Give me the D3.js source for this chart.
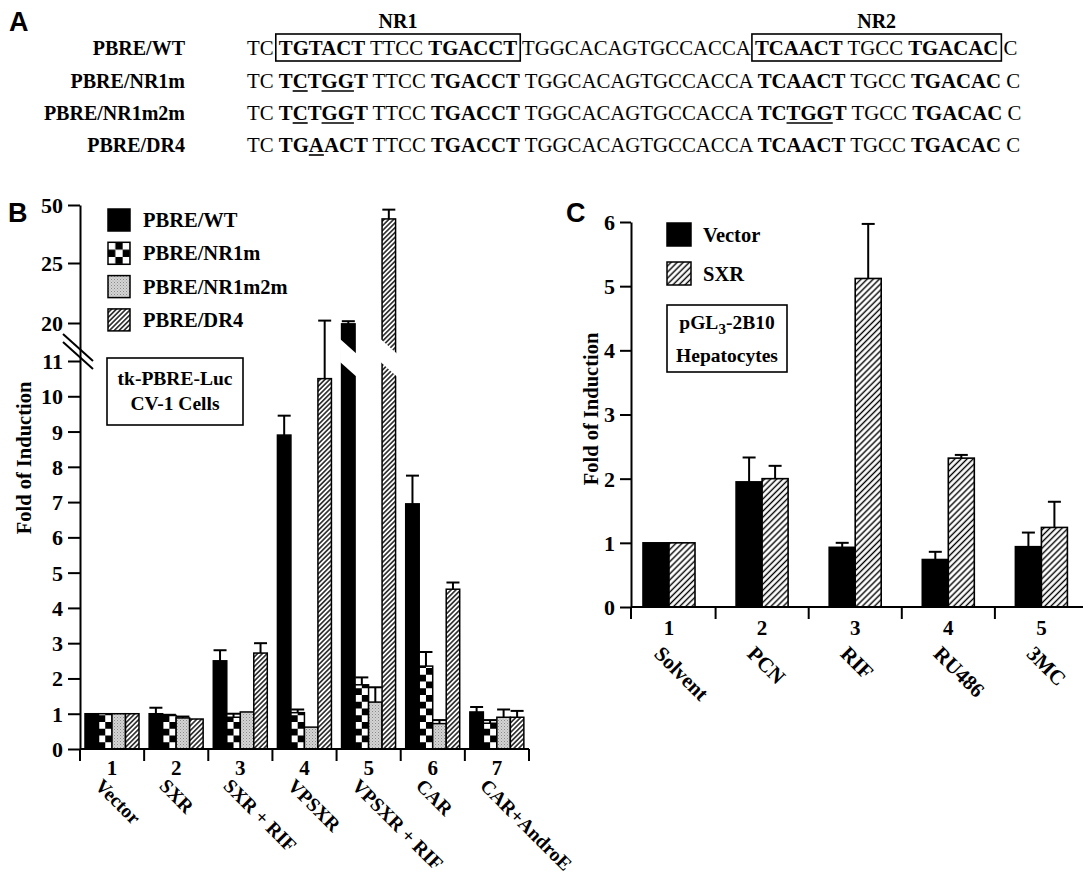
<!DOCTYPE html>
<html><head><meta charset="utf-8">
<script src="https://cdn.jsdelivr.net/npm/d3@7"></script>
<style>
body{margin:0;background:#fff}
text{font-family:"Liberation Serif","Times New Roman",serif;font-weight:bold;fill:#000}
text.sans{font-family:"Liberation Sans",Arial,sans-serif}
</style>
</head><body><svg id="chart" width="1091" height="882"></svg>
<script>
// ---------------- Panel A data ----------------
const seqLabels = ["PBRE/WT", "PBRE/NR1m", "PBRE/NR1m2m", "PBRE/DR4"];
// [text, bold, underline]
const seqSegments = [
  [["TC ",0,0],["TGTACT",1,0],[" TTCC ",0,0],["TGACCT",1,0],[" TGGCACAGTGCCACCA ",0,0],["TCAACT",1,0],[" TGCC ",0,0],["TGACAC",1,0],[" C",0,0]],
  [["TC ",0,0],["T",1,0],["C",1,1],["T",1,0],["GG",1,1],["T",1,0],[" TTCC ",0,0],["TGACCT",1,0],[" TGGCACAGTGCCACCA ",0,0],["TCAACT",1,0],[" TGCC ",0,0],["TGACAC",1,0],[" C",0,0]],
  [["TC ",0,0],["T",1,0],["C",1,1],["T",1,0],["GG",1,1],["T",1,0],[" TTCC ",0,0],["TGACCT",1,0],[" TGGCACAGTGCCACCA ",0,0],["TC",1,0],["TGG",1,1],["T",1,0],[" TGCC ",0,0],["TGACAC",1,0],[" C",0,0]],
  [["TC ",0,0],["TG",1,0],["A",1,1],["ACT",1,0],[" TTCC ",0,0],["TGACCT",1,0],[" TGGCACAGTGCCACCA ",0,0],["TCAACT",1,0],[" TGCC ",0,0],["TGACAC",1,0],[" C",0,0]]
];
const boxNames = ["NR1", "NR2"];

// ---------------- Panel B data ----------------
const groupsB = ["Vector", "SXR", "SXR + RIF", "VPSXR", "VPSXR + RIF", "CAR", "CAR+AndroE"];
const seriesB = ["PBRE/WT", "PBRE/NR1m", "PBRE/NR1m2m", "PBRE/DR4"];
const wtVals     = [1.0, 1.0, 2.5, 8.9, 19.8, 6.95, 1.05];
const wtErr      = [null, 1.17, 2.8, 9.45, 20.15, 7.75, 1.19];
const nr1mVals   = [1.0, 0.95, 0.9, 1.03, 1.82, 2.35, 0.73];
const nr1mErr    = [null, 0.97, 1.0, 1.12, 2.03, 2.75, 0.82];
const nr1m2mVals = [1.0, 0.88, 1.05, 0.62, 1.33, 0.72, 0.9];
const nr1m2mErr  = [null, 0.92, null, null, 1.75, 0.82, 1.12];
const dr4Vals    = [1.0, 0.85, 2.72, 10.5, 44, 4.53, 0.9];
const dr4Err     = [null, null, 3.0, 20.2, 48, 4.72, 1.08];
const ticksB = [0, 1, 2, 3, 4, 5, 6, 7, 8, 9, 10, 11, 20, 25, 50];

// ---------------- Panel C data ----------------
const groupsC = ["Solvent", "PCN", "RIF", "RU486", "3MC"];
const seriesC = ["Vector", "SXR"];
const vecVals = [1.0, 1.95, 0.93, 0.74, 0.94];
const vecErr  = [null, 2.33, 1.0, 0.86, 1.16];
const sxrVals = [1.0, 2.0, 5.12, 2.32, 1.24];
const sxrErr  = [null, 2.2, 5.97, 2.37, 1.64];
const ticksC = [0, 1, 2, 3, 4, 5, 6];

const SERIF = '"Liberation Serif","Times New Roman",serif';
const svg = d3.select("#chart");
const defs = svg.append("defs");

function hatch(id, w, lw) {
  const p = defs.append("pattern").attr("id", id).attr("patternUnits", "userSpaceOnUse")
    .attr("width", w).attr("height", w).attr("patternTransform", "rotate(45)");
  p.append("rect").attr("width", w).attr("height", w).attr("fill", "#fff");
  p.append("line").attr("x1", w/2).attr("x2", w/2).attr("y1", 0).attr("y2", w).attr("stroke", "#000").attr("stroke-width", lw);
}
hatch("hatchB", 3.4, 1.35);
hatch("hatchC", 4.3, 1.4);
(function(){
  const p = defs.append("pattern").attr("id", "stip").attr("patternUnits", "userSpaceOnUse").attr("width", 3).attr("height", 3);
  p.append("rect").attr("width", 3).attr("height", 3).attr("fill", "#d4d4d4");
  p.append("rect").attr("x", 0).attr("y", 0).attr("width", 1).attr("height", 1).attr("fill", "#8a8a8a");
  p.append("rect").attr("x", 1.5).attr("y", 1.5).attr("width", 1).attr("height", 1).attr("fill", "#a4a4a4");
})();
function checker(id, x0, y0, s) {
  const p = defs.append("pattern").attr("id", id).attr("patternUnits", "userSpaceOnUse")
    .attr("x", x0).attr("y", y0).attr("width", 2*s).attr("height", 2*s);
  p.append("rect").attr("width", 2*s).attr("height", 2*s).attr("fill", "#fff");
  p.append("rect").attr("x", s).attr("y", 0).attr("width", s).attr("height", s).attr("fill", "#000");
  p.append("rect").attr("x", 0).attr("y", s).attr("width", s).attr("height", s).attr("fill", "#000");
}
function T(g, size) { return g.append("text").attr("font-family", SERIF).attr("font-weight", "bold").attr("font-size", size); }

// ================= Panel A =================
const gA = svg.append("g");
gA.append("text").attr("class", "sans").attr("font-family", "Liberation Sans").attr("font-weight", "bold")
  .attr("x", 9).attr("y", 31).attr("font-size", 27).text("A");
const rowY = [55, 88, 120, 152];
const seqX0 = 247, seqFont = 20.8, labelRight = 185;
seqLabels.forEach((lab, r) => {
  T(gA, 20).attr("x", labelRight).attr("y", rowY[r]).attr("text-anchor", "end").text(lab);
  let x = seqX0;
  const pos = [];
  seqSegments[r].forEach(([t, b, u]) => {
    const el = gA.append("text").attr("x", x).attr("y", rowY[r]).attr("font-size", seqFont)
      .attr("font-family", SERIF).style("white-space", "pre").style("font-weight", b ? "bold" : "normal").text(t);
    const w = el.node().getComputedTextLength();
    pos.push([x, x + w]);
    if (u) gA.append("line").attr("x1", x).attr("x2", x + w).attr("y1", rowY[r] + 3).attr("y2", rowY[r] + 3)
      .attr("stroke", "#000").attr("stroke-width", 1.6);
    x += w;
  });
  if (r === 0) {
    [[1, 3], [5, 7]].forEach(([a, b], k) => {
      const x1 = pos[a][0] - 3, x2 = pos[b][1] + 3;
      gA.append("rect").attr("x", x1).attr("y", rowY[r] - 21).attr("width", x2 - x1).attr("height", 27)
        .attr("fill", "none").attr("stroke", "#000").attr("stroke-width", 1.6);
      T(gA, 20).attr("x", (x1 + x2) / 2).attr("y", rowY[r] - 27).attr("text-anchor", "middle").text(boxNames[k]);
    });
  }
});

// ================= Panel B =================
const gB = svg.append("g");
gB.append("text").attr("class", "sans").attr("font-family", "Liberation Sans").attr("font-weight", "bold")
  .attr("x", 8).attr("y", 222).attr("font-size", 27).text("B");
const yB = d3.scaleLinear().domain([0, 11, 20, 25, 50]).range([749, 361, 323, 263, 205]);
const xB = d3.scaleBand().domain(d3.range(groupsB.length)).range([80, 529]);
const sB = d3.scaleBand().domain(d3.range(seriesB.length)).range([5, 59]);
const valsB = [wtVals, nr1mVals, nr1m2mVals, dr4Vals];
const errsB = [wtErr, nr1mErr, nr1m2mErr, dr4Err];
const bw = sB.bandwidth();
function fillB(s, g) {
  if (s === 0) return "#000";
  if (s === 1) { const id = "chkB" + g; checker(id, xB(g) + sB(1), yB(0), bw / 2); return `url(#${id})`; }
  if (s === 2) return "url(#stip)";
  return "url(#hatchB)";
}
seriesB.forEach((name, s) => {
  groupsB.forEach((grp, g) => {
    const x = xB(g) + sB(s), v = valsB[s][g];
    gB.append("rect").attr("x", x).attr("y", yB(v)).attr("width", bw).attr("height", yB(0) - yB(v))
      .attr("fill", fillB(s, g)).attr("stroke", "#000").attr("stroke-width", 1.5);
  });
});
seriesB.forEach((name, s) => {
  groupsB.forEach((grp, g) => {
    const e = errsB[s][g]; if (e == null) return;
    const cx = xB(g) + sB(s) + bw / 2, v = valsB[s][g];
    gB.append("line").attr("x1", cx).attr("x2", cx).attr("y1", yB(v)).attr("y2", yB(e)).attr("stroke", "#000").attr("stroke-width", 2);
    gB.append("line").attr("x1", cx - 6.5).attr("x2", cx + 6.5).attr("y1", yB(e)).attr("y2", yB(e)).attr("stroke", "#000").attr("stroke-width", 2);
  });
});
// break bands on bars that cross the broken range
seriesB.forEach((name, s) => {
  groupsB.forEach((grp, g) => {
    const v = valsB[s][g]; if (v <= 11) return;
    const x = xB(g) + sB(s) - 1.5, w = bw + 3, yt = yB(20) + 16, sl = 0.9, th = 23;
    gB.append("polygon").attr("points", [[x, yt], [x + w, yt + sl * w], [x + w, yt + sl * w + th], [x, yt + th]].map(p => p.join(",")).join(" "))
      .attr("fill", "#fff");
  });
});
const axB = gB.append("g").attr("transform", "translate(80,0)")
  .call(d3.axisLeft(yB).tickValues(ticksB).tickSize(12).tickSizeOuter(0).tickPadding(5).tickFormat(d3.format("d")));
axB.attr("font-family", SERIF);
axB.select(".domain").attr("stroke-width", 2);
axB.selectAll(".tick line").attr("stroke-width", 2);
axB.selectAll(".tick text").attr("font-size", 22).attr("font-family", SERIF).attr("font-weight", "bold").attr("dy", "0.34em");
[0, 8].forEach(o => gB.append("line").attr("x1", 63).attr("y1", 334 + o).attr("x2", 93).attr("y2", 361 + o).attr("stroke", "#000").attr("stroke-width", 2));
gB.append("line").attr("x1", 80).attr("x2", 529).attr("y1", yB(0)).attr("y2", yB(0)).attr("stroke", "#000").attr("stroke-width", 2);
d3.range(groupsB.length + 1).forEach(i => {
  const x = i < groupsB.length ? xB(i) : xB(groupsB.length - 1) + xB.bandwidth();
  gB.append("line").attr("x1", x).attr("x2", x).attr("y1", yB(0)).attr("y2", yB(0) + 12).attr("stroke", "#000").attr("stroke-width", 2);
});
groupsB.forEach((grp, g) => {
  const cx = xB(g) + xB.bandwidth() / 2;
  T(gB, 21).attr("x", cx).attr("y", 775).attr("text-anchor", "middle").text(g + 1);
  T(gB, 19.5).attr("transform", `translate(${cx - 18},787) rotate(45)`).text(grp);
});
T(gB, 20.5).attr("transform", "translate(31,458) rotate(-90)").attr("text-anchor", "middle").text("Fold of Induction");
seriesB.forEach((name, s) => {
  const y = 209 + s * 33.3;
  let f;
  if (s === 1) { checker("chkLeg", 108, y, 22 / 3); f = "url(#chkLeg)"; } else f = fillB(s, 0);
  gB.append("rect").attr("x", 108).attr("y", y).attr("width", 22).attr("height", 22).attr("fill", f).attr("stroke", "#000").attr("stroke-width", 1.5);
  T(gB, 20.5).attr("x", 143).attr("y", y + 18).text(name);
});
gB.append("rect").attr("x", 107).attr("y", 358).attr("width", 136).attr("height", 67).attr("fill", "#fff").attr("stroke", "#000").attr("stroke-width", 1.6);
T(gB, 19.5).attr("x", 175).attr("y", 385).attr("text-anchor", "middle").text("tk-PBRE-Luc");
T(gB, 19.5).attr("x", 175).attr("y", 410).attr("text-anchor", "middle").text("CV-1 Cells");

// ================= Panel C =================
const gC = svg.append("g");
gC.append("text").attr("class", "sans").attr("font-family", "Liberation Sans").attr("font-weight", "bold")
  .attr("x", 566).attr("y", 222).attr("font-size", 27).text("C");
const yC = d3.scaleLinear().domain([0, 6]).range([607, 222]);
const xC = d3.scaleBand().domain(d3.range(groupsC.length)).range([622.5, 1088]);
const sC = d3.scaleBand().domain(d3.range(seriesC.length)).range([20.5, 72.5]);
const valsC = [vecVals, sxrVals], errsC = [vecErr, sxrErr], fillsC = ["#000", "url(#hatchC)"];
const bwC = sC.bandwidth();
seriesC.forEach((name, s) => {
  groupsC.forEach((grp, g) => {
    const x = xC(g) + sC(s), v = valsC[s][g];
    gC.append("rect").attr("x", x).attr("y", yC(v)).attr("width", bwC).attr("height", yC(0) - yC(v))
      .attr("fill", fillsC[s]).attr("stroke", "#000").attr("stroke-width", 1.6);
  });
});
seriesC.forEach((name, s) => {
  groupsC.forEach((grp, g) => {
    const e = errsC[s][g]; if (e == null) return;
    const cx = xC(g) + sC(s) + bwC / 2, v = valsC[s][g];
    gC.append("line").attr("x1", cx).attr("x2", cx).attr("y1", yC(v)).attr("y2", yC(e)).attr("stroke", "#000").attr("stroke-width", 2);
    gC.append("line").attr("x1", cx - 6.5).attr("x2", cx + 6.5).attr("y1", yC(e)).attr("y2", yC(e)).attr("stroke", "#000").attr("stroke-width", 2);
  });
});
const axC = gC.append("g").attr("transform", "translate(631,0)")
  .call(d3.axisLeft(yC).tickValues(ticksC).tickSize(11).tickSizeOuter(0).tickPadding(5).tickFormat(d3.format("d")));
axC.attr("font-family", SERIF);
axC.select(".domain").attr("stroke-width", 2);
axC.selectAll(".tick line").attr("stroke-width", 2);
axC.selectAll(".tick text").attr("font-size", 22).attr("font-family", SERIF).attr("font-weight", "bold").attr("dy", "0.34em");
gC.append("line").attr("x1", 631).attr("x2", 1083).attr("y1", yC(0)).attr("y2", yC(0)).attr("stroke", "#000").attr("stroke-width", 2);
[631].concat(d3.range(1, groupsC.length).map(i => xC(i))).forEach(x => {
  gC.append("line").attr("x1", x).attr("x2", x).attr("y1", yC(0)).attr("y2", yC(0) + 12).attr("stroke", "#000").attr("stroke-width", 2);
});
groupsC.forEach((grp, g) => {
  const cx = xC(g) + sC(1);
  T(gC, 21).attr("x", cx).attr("y", 635).attr("text-anchor", "middle").text(g + 1);
  T(gC, 21).attr("transform", `translate(${cx - 16},655) rotate(45)`).text(grp);
});
T(gC, 20.5).attr("transform", "translate(598,409) rotate(-90)").attr("text-anchor", "middle").text("Fold of Induction");
seriesC.forEach((name, s) => {
  const y = 223 + s * 39;
  gC.append("rect").attr("x", 667).attr("y", y).attr("width", 24).attr("height", 23).attr("fill", fillsC[s]).attr("stroke", "#000").attr("stroke-width", 1.5);
  T(gC, 20.5).attr("x", 703).attr("y", y + 19).text(name);
});
gC.append("rect").attr("x", 667).attr("y", 305).attr("width", 120).attr("height", 67).attr("fill", "#fff").attr("stroke", "#000").attr("stroke-width", 1.6);
const t1 = T(gC, 19.5).attr("x", 727).attr("y", 329).attr("text-anchor", "middle");
t1.append("tspan").text("pGL");
t1.append("tspan").attr("dy", 5).attr("font-size", 15).text("3");
t1.append("tspan").attr("dy", -5).text("-2B10");
T(gC, 19.5).attr("x", 727).attr("y", 362).attr("text-anchor", "middle").text("Hepatocytes");
</script>
</body></html>
